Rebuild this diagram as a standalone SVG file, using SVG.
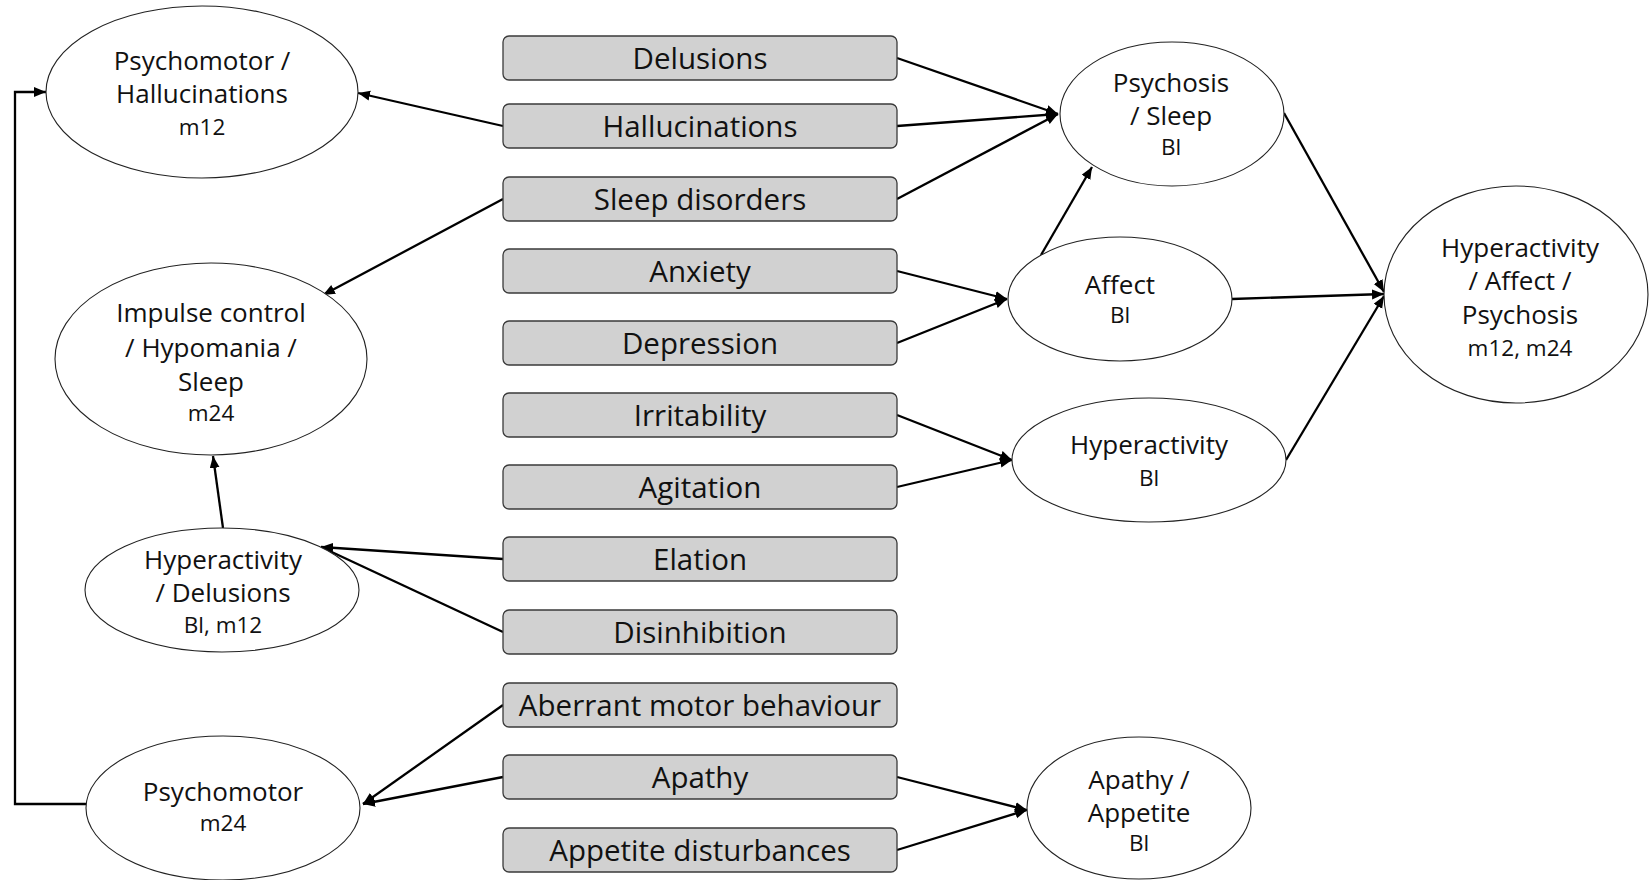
<svg xmlns="http://www.w3.org/2000/svg" width="1650" height="880" viewBox="0 0 1650 880">
<defs>
<marker id="arr" markerUnits="userSpaceOnUse" markerWidth="13" markerHeight="11" refX="12" refY="5" orient="auto">
<path d="M0,0 L12,5 L0,10 z" fill="#000"/>
</marker>
<style>
.box rect{fill:#d1d1d1;stroke:#3a3a3a;stroke-width:1.3}
.box text{font-family:"Open Sans","Liberation Sans",sans-serif;font-size:29.5px;fill:#111;text-anchor:middle}
.lat ellipse{fill:#fff;stroke:#222;stroke-width:1.1}
.lat text{font-family:"Open Sans","Liberation Sans",sans-serif;font-size:26px;fill:#111;text-anchor:middle}
.lat text.s{font-size:22.5px}
.conn line,.conn polyline{stroke:#000;stroke-width:2.3;fill:none;marker-end:url(#arr)}
</style>
</defs>
<rect width="1650" height="880" fill="#fff"/>
<g class="conn" id="connectors">
<line x1="897" y1="58" x2="1058" y2="114"/>
<line x1="897" y1="126" x2="1058" y2="114"/>
<line x1="897" y1="199" x2="1058" y2="114"/>
<line x1="503" y1="126" x2="358" y2="93"/>
<line x1="503" y1="199" x2="323" y2="295"/>
<line x1="897" y1="271" x2="1007" y2="299"/>
<line x1="897" y1="343" x2="1007" y2="299"/>
<line x1="1041" y1="255" x2="1092" y2="167"/>
<line x1="1284" y1="113" x2="1384" y2="292"/>
<line x1="1232" y1="299" x2="1384" y2="294"/>
<line x1="1286" y1="460" x2="1384" y2="296"/>
<line x1="897" y1="415" x2="1012" y2="460"/>
<line x1="897" y1="487" x2="1012" y2="460"/>
<line x1="503" y1="559" x2="321" y2="547"/>
<line x1="503" y1="632" x2="321" y2="547"/>
<line x1="223" y1="528" x2="213" y2="456"/>
<line x1="503" y1="705" x2="363" y2="804"/>
<line x1="503" y1="777" x2="363" y2="804"/>
<line x1="897" y1="777" x2="1027" y2="810"/>
<line x1="897" y1="850" x2="1027" y2="810"/>
<polyline points="86,804 15,804 15,92 46,92"/>
</g>
<g class="box" id="n-delusions"><rect x="503" y="36" width="394" height="44" rx="6"/><text x="700" y="68.5">Delusions</text></g>
<g class="box" id="n-hallucinations"><rect x="503" y="104" width="394" height="44" rx="6"/><text x="700" y="136.5">Hallucinations</text></g>
<g class="box" id="n-sleep"><rect x="503" y="177" width="394" height="44" rx="6"/><text x="700" y="209.5">Sleep disorders</text></g>
<g class="box" id="n-anxiety"><rect x="503" y="249" width="394" height="44" rx="6"/><text x="700" y="281.5">Anxiety</text></g>
<g class="box" id="n-depression"><rect x="503" y="321" width="394" height="44" rx="6"/><text x="700" y="353.5">Depression</text></g>
<g class="box" id="n-irritability"><rect x="503" y="393" width="394" height="44" rx="6"/><text x="700" y="425.5">Irritability</text></g>
<g class="box" id="n-agitation"><rect x="503" y="465" width="394" height="44" rx="6"/><text x="700" y="497.5">Agitation</text></g>
<g class="box" id="n-elation"><rect x="503" y="537" width="394" height="44" rx="6"/><text x="700" y="569.5">Elation</text></g>
<g class="box" id="n-disinhibition"><rect x="503" y="610" width="394" height="44" rx="6"/><text x="700" y="642.5">Disinhibition</text></g>
<g class="box" id="n-aberrant"><rect x="503" y="683" width="394" height="44" rx="6"/><text x="700" y="715.5">Aberrant motor behaviour</text></g>
<g class="box" id="n-apathy"><rect x="503" y="755" width="394" height="44" rx="6"/><text x="700" y="787.5">Apathy</text></g>
<g class="box" id="n-appetite"><rect x="503" y="828" width="394" height="44" rx="6"/><text x="700" y="860.5">Appetite disturbances</text></g>
<g class="lat" id="l-psych-hall"><ellipse cx="202" cy="92" rx="156" ry="86"/><text x="202" y="70">Psychomotor /</text><text x="202" y="103">Hallucinations</text><text class="s" x="202" y="135">m12</text></g>
<g class="lat" id="l-impulse"><ellipse cx="211" cy="359" rx="156" ry="96"/><text x="211" y="322">Impulse control</text><text x="211" y="357">/ Hypomania /</text><text x="211" y="391">Sleep</text><text class="s" x="211" y="421">m24</text></g>
<g class="lat" id="l-hyper-del"><ellipse cx="222" cy="590" rx="137" ry="62"/><text x="223" y="569">Hyperactivity</text><text x="223" y="602">/ Delusions</text><text class="s" x="223" y="633">Bl, m12</text></g>
<g class="lat" id="l-psychomotor"><ellipse cx="223" cy="808" rx="137" ry="72"/><text x="223" y="801">Psychomotor</text><text class="s" x="223" y="831">m24</text></g>
<g class="lat" id="l-psychosis-sleep"><ellipse cx="1172" cy="114" rx="112" ry="72"/><text x="1171" y="92">Psychosis</text><text x="1171" y="125">/ Sleep</text><text class="s" x="1171" y="155">Bl</text></g>
<g class="lat" id="l-affect"><ellipse cx="1120" cy="299" rx="112" ry="62"/><text x="1120" y="294">Affect</text><text class="s" x="1120" y="323">Bl</text></g>
<g class="lat" id="l-hyper"><ellipse cx="1149" cy="460" rx="137" ry="62"/><text x="1149" y="454">Hyperactivity</text><text class="s" x="1149" y="486">Bl</text></g>
<g class="lat" id="l-hyper-aff-psy"><ellipse cx="1516" cy="294.5" rx="132" ry="108.5"/><text x="1520" y="256.5">Hyperactivity</text><text x="1520" y="290">/ Affect /</text><text x="1520" y="324">Psychosis</text><text class="s" x="1520" y="355.5">m12, m24</text></g>
<g class="lat" id="l-apathy-appetite"><ellipse cx="1139" cy="808" rx="112" ry="71"/><text x="1139" y="789">Apathy /</text><text x="1139" y="822">Appetite</text><text class="s" x="1139" y="851">Bl</text></g>
</svg>
